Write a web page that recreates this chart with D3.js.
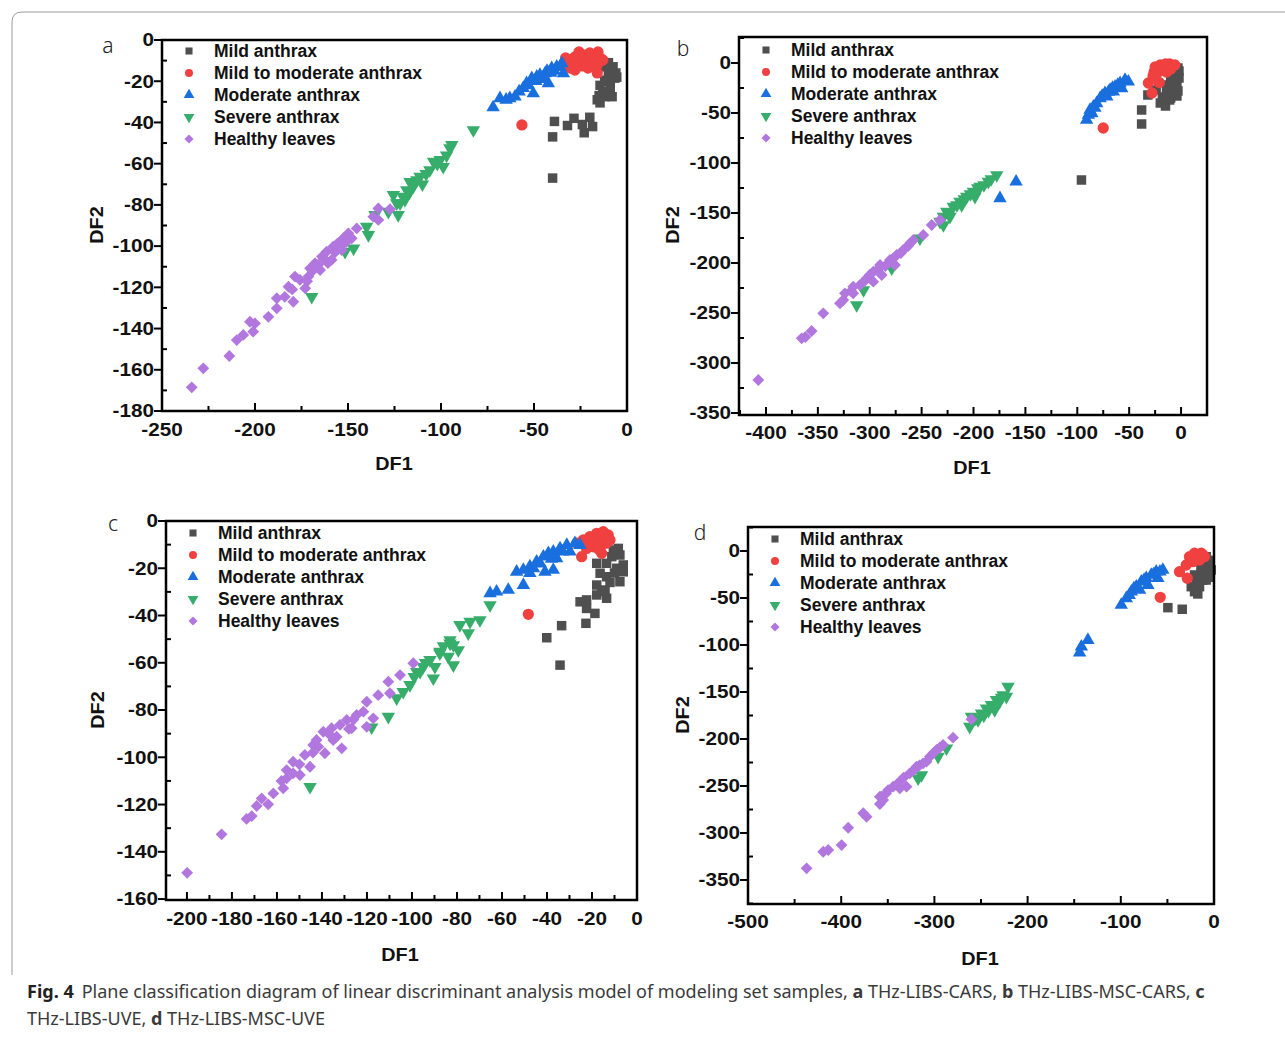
<!DOCTYPE html>
<html>
<head>
<meta charset="utf-8">
<script src="https://cdn.jsdelivr.net/npm/d3@7"></script>
<style>
  body { margin: 0; background: #fff; }
  svg { display: block; }
  .tick-label, .axis-title, .legend-text { font-family: "Liberation Sans", Arial, sans-serif; font-weight: bold; fill: #111; }
  .letter { font-family: "Noto Sans", "Open Sans", sans-serif; font-weight: 300; fill: #222; }
  .caption { font-family: "Noto Sans", "Open Sans", sans-serif; fill: #3a3a3a; }
</style>
</head>
<body>
<svg id="fig" width="1285" height="1037"></svg>
<script>
// series names shared by all four panels
const seriesNames = ["Mild anthrax", "Mild to moderate anthrax", "Moderate anthrax", "Severe anthrax", "Healthy leaves"];
const seriesColors = ["#4f4f4f", "#f04040", "#1a6fdf", "#37ad6b", "#b177de"];

// ---- panel a : THz-LIBS-CARS ----
const mildA = [[-13,-13],[-7.5,-13],[-5.5,-18],[-11,-19.5],[-14.5,-22],[-9,-22],[-13,-25],[-9,-24],[-16,-29],[-14.5,-30.5],
  [-6.5,-18.5],[-10,-15.5],[-12,-27.5],[-8,-27.5],[-10,-11],[-6,-16],[-12,-20],[-15,-27],
  [-39,-39.5],[-32,-41.5],[-28.5,-38],[-24,-41],[-20,-37.5],[-18.5,-42],[-23,-45],[-40,-47],[-40,-67]];
const mildModA = [[-30.5,-9.7],[-28,-8.2],[-25.3,-9.7],[-22.6,-7.3],[-20,-6.3],[-17.2,-7.8],[-15.6,-5.8],[-14.5,-8.7],[-18.8,-10.7],
  [-24.2,-12.6],[-28,-14.6],[-30.5,-13.6],[-21,-13.6],[-16,-12],[-13,-9.7],[-33,-8.7],[-25.8,-5.8],[-16,-16],[-56.5,-41.2],
  [-19,-9],[-23,-11],[-27,-11]];
const moderateA = [[-72,-32.7],[-68.3,-28.3],[-63,-28.3],[-60.2,-27.5],[-55.8,-23.4],[-54,-21],[-51.2,-18.6],[-50.4,-25.9],[-48.5,-17.8],
  [-46.8,-17],[-44,-16.2],[-42.3,-21],[-40.5,-13.7],[-37.8,-13],[-35,-11.3],[-34.2,-16.2],[-58,-25],[-53,-22],[-49,-20],[-45,-18],
  [-43,-15],[-39,-15],[-36,-13],[-65,-29],[-47,-19],[-41,-16]];
const severeA = [[-82.6,-43.7],[-94.2,-50.9],[-95.2,-52.5],[-100.5,-58.2],[-104,-59],[-106,-63.1],[-98.8,-61.5],[-111.3,-66.3],[-115,-71.2],
  [-118.4,-72.8],[-120.3,-76],[-122,-79.2],[-125.6,-75.2],[-116.7,-68.8],[-123.8,-79.2],[-119.4,-77.6],[-123,-84.9],[-128.3,-83.3],
  [-135.5,-84.9],[-140,-90.6],[-139,-94.6],[-147,-101.1],[-151.6,-102.7],[-169.5,-124.6],[-102,-60],[-108,-65],[-113,-68],[-110,-70],
  [-97,-56],[-117,-74]];
const healthyA = [[-234,-168.5],[-227.8,-159.3],[-213.8,-153.3],[-209.8,-145.6],[-206.3,-143.1],[-202.7,-136.7],[-200,-137.5],[-201,-141.5],
  [-192.8,-134.3],[-188.3,-130.2],[-188.3,-125.3],[-184,-124.6],[-179.4,-127],[-182,-119.7],[-178.5,-114.8],[-175.8,-116.4],[-173,-120.5],
  [-171.3,-114.8],[-170.4,-110.8],[-167.7,-108.3],[-165,-111.6],[-164,-105.1],[-161.5,-102.7],[-158.8,-106.7],[-158,-100.3],[-155.2,-98.6],
  [-153.4,-101.9],[-152.5,-96.2],[-149.8,-93.8],[-148,-96.2],[-145.3,-91.4],[-136.4,-85.7],[-133.7,-81.7],[-133.7,-87.3],[-127.4,-82.1],
  [-160.8,-108.2],[-154.3,-100.3],[-169,-112],[-163,-106],[-157,-103],[-151,-98],[-156,-99],[-166,-109],[-172,-117],[-180,-121]];
const xTicksA = [-250, -200, -150, -100, -50, 0];
const yTicksA = [0, -20, -40, -60, -80, -100, -120, -140, -160, -180];

// ---- panel b : THz-LIBS-MSC-CARS ----
const mildB = [[-3,-5],[-5,-10],[-2,-15],[-8,-12],[-4,-20],[-10,-18],[-6,-25],[-3,-28],[-12,-22],[-8,-30],[-14,-27],[-10,-35],[-4,-33],
  [-32,-32],[-24,-27],[-20,-40],[-15,-43],[-11,-37],[-38,-47],[-38,-61],[-96,-117],[-18,-34],[-2,-8]];
const mildModB = [[-25,-4],[-20,-2],[-15,-1],[-11,-1],[-22,-9],[-17,-7],[-12.5,-5],[-8,-3],[-27,-13],[-31.5,-20],[-21,-19.5],[-28,-30],
  [-75,-65],[-18,-3],[-24,-7],[-14,-9],[-10,-6],[-26,-9],[-6,-2]];
const moderateB = [[-91,-57],[-89.3,-52],[-87.7,-47],[-84.5,-43.7],[-81.3,-40.3],[-78,-35.3],[-73.3,-30.3],[-68.4,-27],[-63.6,-23.7],
  [-58.8,-20.3],[-54,-17],[-50.8,-18.7],[-71.6,-33.7],[-65.3,-28.7],[-57.2,-25.3],[-86,-50.3],[-76,-33],[-61,-22],[-66,-25],[-83,-45],
  [-70,-29],[-159,-118.7],[-174.5,-135.3]];
const severeB = [[-177.6,-112],[-185.7,-118.7],[-193.7,-123.7],[-200.2,-128.7],[-206.6,-133.7],[-213,-138.7],[-219.5,-143.7],[-225.8,-148.7],
  [-229,-153.7],[-232.3,-158.7],[-229,-162],[-251.6,-175.3],[-278.8,-205.3],[-306,-227],[-312.6,-242],[-222.7,-153.7],[-211.4,-142],
  [-198.6,-133.7],[-190,-122],[-203,-131],[-216,-142],[-183,-116],[-196,-125],[-209,-136],[-224,-150]];
const healthyB = [[-407.4,-317],[-365.6,-275.3],[-362,-274],[-356,-268],[-344.8,-250.3],[-328.7,-240.3],[-323.9,-230.3],[-315.9,-230.3],
  [-309.4,-222],[-302.9,-215.3],[-296.6,-208.7],[-290.1,-202],[-288.5,-212],[-280.5,-197],[-274,-192],[-267.7,-187],[-261.2,-180.3],
  [-258,-177],[-248.4,-172],[-240.3,-162],[-232.3,-157],[-275.7,-202],[-296.6,-218.7],[-315.9,-223.7],[-325.5,-237],[-305,-218],
  [-285,-203],[-270,-190],[-300,-212],[-318,-228],[-292,-206],[-278,-196],[-263,-183]];
const xTicksB = [-400, -350, -300, -250, -200, -150, -100, -50, 0];
const yTicksB = [0, -50, -100, -150, -200, -250, -300, -350];

// ---- panel c : THz-LIBS-UVE ----
const mildC = [[-8.3,-11.6],[-7.6,-14.4],[-6.1,-18.6],[-11.2,-15.1],[-13.5,-17.9],[-9,-20],[-17.9,-17.9],[-16.4,-22.1],[-13.5,-23.6],
  [-7.6,-25.7],[-17.9,-27.1],[-15.7,-29.2],[-13.5,-32.7],[-17.9,-31.3],[-22.4,-33.4],[-25.3,-34.2],[-22.4,-37],[-18.7,-39.1],
  [-22.7,-43.3],[-33.5,-44.3],[-40.1,-49.4],[-34.2,-61],[-10.5,-12.3],[-6.1,-21.5],[-14.2,-29.9],[-12,-26],[-10,-22]];
const mildModC = [[-26.8,-9.4],[-23.9,-8],[-20.9,-6.6],[-17.9,-5.2],[-15,-4.5],[-12.8,-5.9],[-13.5,-9.4],[-16.4,-11.6],[-19.4,-10.9],
  [-22.4,-11.6],[-24.6,-15.1],[-15.7,-13.7],[-48.3,-39.5],[-12,-8],[-20.1,-8.8],[-18,-8],[-14,-7],[-22,-10],[-17,-12]];
const moderateC = [[-53.5,-21.5],[-50.5,-20.7],[-47.6,-19.3],[-44.6,-17.2],[-41.6,-15.1],[-39.4,-13.7],[-37.2,-13],[-35.7,-15.8],
  [-40.9,-21.5],[-37.2,-20.7],[-34.2,-11.6],[-31.2,-10.2],[-27.6,-9.4],[-25.3,-10.2],[-50.5,-27.1],[-57.2,-29.2],[-62.4,-29.9],
  [-65.3,-30.6],[-29.8,-13],[-47.6,-22.1],[-43,-18],[-46,-20],[-38,-16],[-33,-13]];
const severeC = [[-65.3,-35.6],[-69.8,-41.9],[-74.2,-42.6],[-78.7,-44],[-75,-47.5],[-83.1,-50.4],[-81.6,-52.5],[-79.4,-54.6],[-87.6,-55.3],
  [-83.9,-57.4],[-81.6,-61],[-92,-58.8],[-89.8,-61.7],[-95,-61.7],[-90.5,-66.6],[-83.1,-51.8],[-87.6,-56],[-97.9,-63.8],[-100.9,-69.4],
  [-106.8,-75],[-110.5,-82.8],[-117.9,-87.3],[-145.3,-112.5],[-103.9,-72.3],[-96.4,-63.8],[-99,-66],[-94,-60],[-86,-53]];
const healthyC = [[-199.9,-148.9],[-184.6,-132.6],[-173.5,-126.1],[-171.2,-124.9],[-169,-120.6],[-166.8,-117.4],[-163.9,-119.9],
  [-161.6,-115.3],[-157.2,-113.1],[-155.7,-108.9],[-155.7,-105.4],[-152.8,-101.9],[-149.8,-107.5],[-147.6,-99],[-145.3,-104],
  [-143.9,-94.8],[-141.6,-95.5],[-139.4,-89.2],[-138.7,-98.3],[-135.7,-87.7],[-133.5,-91.3],[-132,-86.3],[-131.2,-96.2],[-129,-84.2],
  [-126.8,-87.7],[-124.6,-82.1],[-121.6,-80.7],[-120.1,-76.5],[-120.1,-87.1],[-117.2,-83.5],[-115,-73.7],[-110.5,-68],[-109.8,-72.9],
  [-105.3,-65.2],[-99.4,-60.2],[-142.4,-92.7],[-135,-92.7],[-152.8,-106.8],[-137,-90],[-128,-88],[-144,-98],[-150,-103],[-158,-110],[-126,-84]];
const xTicksC = [-200, -180, -160, -140, -120, -100, -80, -60, -40, -20, 0];
const yTicksC = [0, -20, -40, -60, -80, -100, -120, -140, -160];

// ---- panel d : THz-LIBS-MSC-UVE ----
const mildD = [[-8.4,-6.1],[-4.8,-13.1],[-6.6,-22],[-13.7,-23.7],[-20.9,-25.5],[-12,-30.9],[-19.1,-34.4],[-24.4,-38],[-15.5,-38],
  [-20.9,-43.3],[-17.4,-45.7],[-8.4,-30.9],[-49.5,-60.3],[-34.1,-62],[-3,-20.2],[-6,-10],[-10,-16],[-4,-28],[-14,-18]];
const mildModD = [[-26.3,-6.1],[-20.9,-2.4],[-13.7,-2.4],[-10.2,-6.1],[-22.7,-11.4],[-29.8,-14.9],[-15.5,-9.6],[-37,-22],[-28.7,-29],
  [-57.7,-49.3],[-18,-5],[-24,-8],[-12,-4]];
const moderateD = [[-99.5,-57.4],[-94.1,-50.3],[-88.7,-43.3],[-83.4,-38],[-78,-32.7],[-72.7,-29],[-67.3,-25.5],[-62,-22],[-54.9,-20.2],
  [-79.8,-41.5],[-70.9,-36.2],[-60.2,-29],[-144.2,-108.2],[-142.3,-101.8],[-135.3,-94.7],[-86,-40],[-75,-31],[-65,-25],[-91,-47],[-58,-22]];
const severeD = [[-221,-144.4],[-226.4,-153.2],[-233.4,-158.5],[-238.8,-163.8],[-235.3,-169.1],[-244.2,-167.3],[-249.5,-172.7],
  [-253.2,-179.8],[-260.2,-176.3],[-262.1,-186.9],[-287,-209.9],[-296,-218.8],[-313.8,-238.3],[-317.5,-241.8],[-222.7,-155],
  [-230,-160],[-242,-170],[-228,-156],[-247,-175],[-256,-178]];
const healthyD = [[-437.1,-337.6],[-419.3,-319.9],[-413.9,-318.1],[-399.6,-312.8],[-392.5,-294.4],[-376.4,-279],[-372.8,-282.7],
  [-358.5,-269.1],[-356.7,-261.4],[-349.6,-254.3],[-344.3,-250.7],[-337.1,-245.4],[-329.9,-250.7],[-326.4,-236.5],[-319.2,-229.5],
  [-312.1,-225.9],[-304.9,-218.8],[-297.7,-211.7],[-290.7,-206.4],[-280,-198.6],[-260.2,-179],[-358.5,-261.4],[-337.1,-252.4],
  [-308.5,-224.1],[-352,-258],[-340,-248],[-333,-241],[-322,-233],[-316,-228],[-301,-215],[-294,-209],[-355,-265]];
const xTicksD = [-500, -400, -300, -200, -100, 0];
const yTicksD = [0, -50, -100, -150, -200, -250, -300, -350];

// layout of the four panels
const panels = [
  { letter: "a", series: [mildA, mildModA, moderateA, severeA, healthyA], xTicks: xTicksA, yTicks: yTicksA,
    x: [-250, 0], y: [-180, 0], box: [162, 40, 627, 411], xMinor: 25, yMinor: 10,
    letterPos: [108, 53], legend: [189, 51], xTitle: [394, 470], yTitle: [97, 225], xLab: 436 },
  { letter: "b", series: [mildB, mildModB, moderateB, severeB, healthyB], xTicks: xTicksB, yTicks: yTicksB,
    x: [-426, 25], y: [-352, 26], box: [739, 37, 1207, 415], xMinor: 25, yMinor: 25,
    letterPos: [683, 56], legend: [766, 50], xTitle: [972, 474], yTitle: [673, 225], xLab: 439 },
  { letter: "c", series: [mildC, mildModC, moderateC, severeC, healthyC], xTicks: xTicksC, yTicks: yTicksC,
    x: [-209.3, 0], y: [-160.4, 0], box: [166, 521, 637, 900], xMinor: 10, yMinor: 10,
    letterPos: [113, 531], legend: [193, 533], xTitle: [400, 961], yTitle: [98, 710], xLab: 925 },
  { letter: "d", series: [mildD, mildModD, moderateD, severeD, healthyD], xTicks: xTicksD, yTicks: yTicksD,
    x: [-500, 0], y: [-375.5, 25.5], box: [748, 527, 1214, 904], xMinor: 50, yMinor: 25,
    letterPos: [700, 540], legend: [775, 539], xTitle: [980, 965], yTitle: [683, 715], xLab: 928 }
];

const svg = d3.select("#fig");

// outer frame of the figure (top and left edges with a rounded corner)
svg.append("path")
  .attr("d", "M1300,12 L22,12 Q12,12 12,22 L12,975")
  .attr("fill", "none").attr("stroke", "#9a9a9a").attr("stroke-width", 1);

function marker(i, size) {
  const types = [d3.symbolSquare, d3.symbolCircle, d3.symbolTriangle, d3.symbolTriangle, d3.symbolSquare];
  return d3.symbol().type(types[i]).size(size)();
}
function markerRotate(i) {
  if (i === 3) return " rotate(180)";
  if (i === 4) return " rotate(45)";
  return "";
}
const markerSizes = [90, 100, 78, 78, 70];
const stretch = 1.15;

panels.forEach(function (p) {
  const [l, t, r, b] = p.box;
  const x = d3.scaleLinear().domain(p.x).range([l, r]);
  const y = d3.scaleLinear().domain(p.y).range([b, t]);
  const g = svg.append("g");

  // points
  p.series.forEach(function (pts, i) {
    g.append("g").selectAll("path")
      .data(pts)
      .enter().append("path")
      .attr("d", marker(i, markerSizes[i]))
      .attr("transform", function (d) {
        return "translate(" + x(d[0]) + "," + y(d[1]) + ")" + markerRotate(i);
      })
      .attr("fill", seriesColors[i]);
  });

  // ticks: majors out on the left and in on the bottom, minors inside
  const xMin = d3.range(Math.ceil(p.x[0] / p.xMinor) * p.xMinor, p.x[1] + 0.001, p.xMinor);
  const yMin = d3.range(Math.ceil(p.y[0] / p.yMinor) * p.yMinor, p.y[1] + 0.001, p.yMinor);
  g.append("g").selectAll("line").data(xMin).enter().append("line")
    .attr("x1", d => x(d)).attr("x2", d => x(d))
    .attr("y1", b).attr("y2", d => p.xTicks.includes(d) ? b - 8 : b - 5)
    .attr("stroke", "#000").attr("stroke-width", 2);
  g.append("g").selectAll("line").data(yMin).enter().append("line")
    .attr("y1", d => y(d)).attr("y2", d => y(d))
    .attr("x1", l).attr("x2", d => p.yTicks.includes(d) ? l - 8 : l + 5)
    .attr("stroke", "#000").attr("stroke-width", 2);

  // frame
  g.append("rect")
    .attr("x", l).attr("y", t).attr("width", r - l).attr("height", b - t)
    .attr("fill", "none").attr("stroke", "#000").attr("stroke-width", 2.5);

  // tick labels
  g.append("g").selectAll("text").data(p.xTicks).enter().append("text")
    .attr("class", "tick-label")
    .attr("transform", d => "translate(" + x(d) + "," + p.xLab + ") scale(" + stretch + ",1)")
    .attr("text-anchor", "middle").attr("font-size", 18)
    .text(d => String(d));
  g.append("g").selectAll("text").data(p.yTicks).enter().append("text")
    .attr("class", "tick-label")
    .attr("transform", d => "translate(" + (l - 8) + "," + y(d) + ") scale(" + stretch + ",1)")
    .attr("dy", "0.35em")
    .attr("text-anchor", "end").attr("font-size", 18)
    .text(d => String(d));

  // axis titles
  g.append("text").attr("class", "axis-title")
    .attr("transform", "translate(" + p.xTitle[0] + "," + p.xTitle[1] + ") scale(1.1,1)")
    .attr("text-anchor", "middle").attr("font-size", 18)
    .text("DF1");
  g.append("text").attr("class", "axis-title")
    .attr("transform", "translate(" + (p.yTitle[0] + 6) + "," + p.yTitle[1] + ") rotate(-90) scale(1.1,1)")
    .attr("text-anchor", "middle").attr("font-size", 18)
    .text("DF2");

  // panel letter
  g.append("text").attr("class", "letter")
    .attr("x", p.letterPos[0]).attr("y", p.letterPos[1])
    .attr("text-anchor", "middle").attr("font-size", 21)
    .text(p.letter);

  // legend
  const lg = g.append("g").attr("transform", "translate(" + p.legend[0] + "," + p.legend[1] + ")");
  seriesNames.forEach(function (name, i) {
    lg.append("path")
      .attr("d", marker(i, i === 4 ? 42 : 50))
      .attr("transform", "translate(0," + (i * 22) + ")" + markerRotate(i))
      .attr("fill", seriesColors[i]);
    lg.append("text").attr("class", "legend-text")
      .attr("x", 25).attr("y", i * 22).attr("dy", "0.35em")
      .attr("font-size", 17.5)
      .text(name);
  });
});

// caption
const cap = svg.append("text").attr("class", "caption").attr("x", 27).attr("y", 998).attr("font-size", 18);
cap.append("tspan").attr("font-weight", "bold").attr("fill", "#222").text("Fig. 4");
cap.append("tspan").attr("dx", 8).text("Plane classification diagram of linear discriminant analysis model of modeling set samples, ");
cap.append("tspan").attr("font-weight", "bold").text("a");
cap.append("tspan").text(" THz-LIBS-CARS, ");
cap.append("tspan").attr("font-weight", "bold").text("b");
cap.append("tspan").text(" THz-LIBS-MSC-CARS, ");
cap.append("tspan").attr("font-weight", "bold").text("c");
const cap2 = svg.append("text").attr("class", "caption").attr("x", 27).attr("y", 1025).attr("font-size", 18);
cap2.append("tspan").text("THz-LIBS-UVE, ");
cap2.append("tspan").attr("font-weight", "bold").text("d");
cap2.append("tspan").text(" THz-LIBS-MSC-UVE");
</script>
</body>
</html>
